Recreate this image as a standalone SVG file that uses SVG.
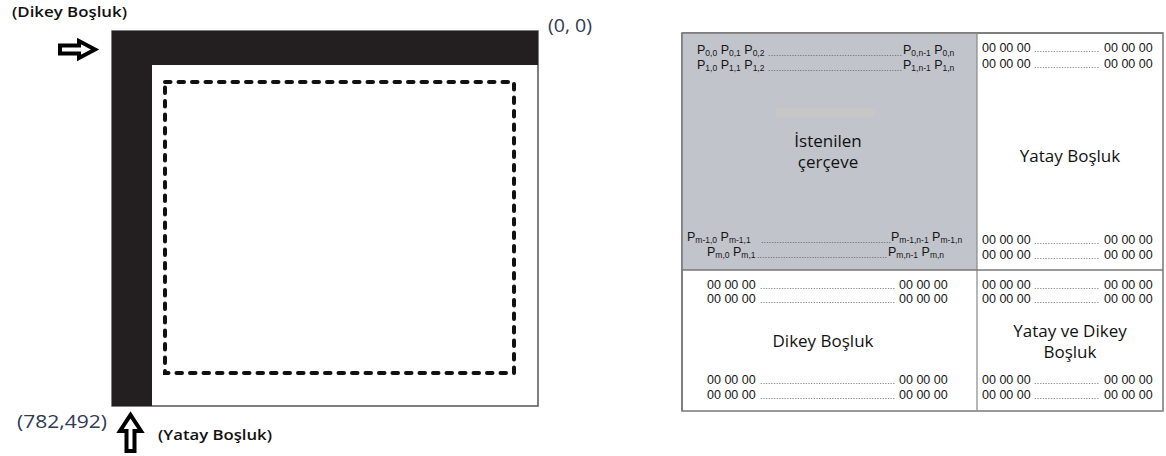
<svg xmlns="http://www.w3.org/2000/svg" width="1166" height="456" viewBox="0 0 1166 456">
<style>
.lbl{font-family:"Open Sans","DejaVu Sans",sans-serif;fill:#111;font-weight:600}
.coord{font-family:"Open Sans","DejaVu Sans",sans-serif;fill:#2f3a55}
.p{font-family:"Liberation Sans",Arial,sans-serif;font-size:12.5px;fill:#151515}
.s{font-size:8.5px}
.dots{font-family:"Liberation Sans",Arial,sans-serif;font-size:9px;fill:#555b66}
.z{font-family:"Liberation Sans",Arial,sans-serif;font-size:12.5px;fill:#151515}
.big{font-family:"Open Sans","DejaVu Sans",sans-serif;font-size:17px;fill:#111;text-anchor:middle}
.arrow{fill:#fff;stroke:#000;stroke-width:4;stroke-linejoin:miter}
</style>
<rect width="1166" height="456" fill="#fff"/>

<g id="frame">
  <rect x="112" y="31" width="426" height="375" fill="#fff" stroke="#555" stroke-width="1.5"/>
  <rect x="112" y="31" width="426" height="34" fill="#231f20"/>
  <rect x="112" y="31" width="40" height="375" fill="#231f20"/>
  <rect x="165" y="82" width="349" height="291" fill="none" stroke="#111" stroke-width="4" stroke-dasharray="5.5 8" stroke-linecap="round"/>
</g>

<g id="connectors">
  <path class="arrow" d="M60,45.5 H79 V41 L95,49.5 L79,58 V53.5 H60 Z"/>
  <path class="arrow" d="M126.5,451 V431 H120 L130.5,415 L141,431 H134.5 V451 Z"/>
</g>

<g id="labels">
  <text class="lbl" x="12" y="17" font-size="14.5" textLength="115" lengthAdjust="spacingAndGlyphs">(Dikey Boşluk)</text>
  <text class="coord" x="548" y="32" font-size="18" textLength="44" lengthAdjust="spacingAndGlyphs">(0, 0)</text>
  <text class="coord" x="17" y="428" font-size="19" textLength="90" lengthAdjust="spacingAndGlyphs">(782,492)</text>
  <text class="lbl" x="158" y="440" font-size="14" textLength="114" lengthAdjust="spacingAndGlyphs">(Yatay Boşluk)</text>
</g>

<g id="table">
  <rect x="682" y="33" width="481" height="378" fill="#fff" stroke="#777" stroke-width="1.5"/>
  <rect x="682" y="33" width="295" height="237" fill="#c1c4cb"/>
  <line x1="682" y1="33" x2="1163" y2="33" stroke="#777" stroke-width="1.5"/>
  <line x1="682" y1="33" x2="682" y2="411" stroke="#777" stroke-width="1.5"/>
  <line x1="977" y1="33" x2="977" y2="411" stroke="#888" stroke-width="1.2"/>
  <line x1="682" y1="270" x2="1163" y2="270" stroke="#777" stroke-width="1.5"/>
</g>

<g id="cell-istenilen">
  <rect x="776" y="108" width="99" height="9" fill="#c6c6c6"/>
  <text class="p" x="697" y="54">P<tspan class="s" dy="2">0,0</tspan><tspan dy="-2"> P</tspan><tspan class="s" dy="2">0,1</tspan><tspan dy="-2"> P</tspan><tspan class="s" dy="2">0,2</tspan></text>
  <text class="dots" x="768" y="56" textLength="134" lengthAdjust="spacing">...................................................</text>
  <text class="p" x="903" y="54">P<tspan class="s" dy="2">0,n-1</tspan><tspan dy="-2"> P</tspan><tspan class="s" dy="2">0,n</tspan></text>
  <text class="p" x="697" y="69">P<tspan class="s" dy="2">1,0</tspan><tspan dy="-2"> P</tspan><tspan class="s" dy="2">1,1</tspan><tspan dy="-2"> P</tspan><tspan class="s" dy="2">1,2</tspan></text>
  <text class="dots" x="768" y="71" textLength="134" lengthAdjust="spacing">...................................................</text>
  <text class="p" x="903" y="69">P<tspan class="s" dy="2">1,n-1</tspan><tspan dy="-2"> P</tspan><tspan class="s" dy="2">1,n</tspan></text>
  <text class="big" font-size="15.5"><tspan x="828" y="147">İstenilen</tspan><tspan x="828" y="168">çerçeve</tspan></text>
  <text class="p" x="687" y="241">P<tspan class="s" dy="2">m-1,0</tspan><tspan dy="-2"> P</tspan><tspan class="s" dy="2">m-1,1</tspan></text>
  <text class="dots" x="761" y="243" textLength="130" lengthAdjust="spacing">..................................................</text>
  <text class="p" x="891" y="241">P<tspan class="s" dy="2">m-1,n-1</tspan><tspan dy="-2"> P</tspan><tspan class="s" dy="2">m-1,n</tspan></text>
  <text class="p" x="707" y="256">P<tspan class="s" dy="2">m,0</tspan><tspan dy="-2"> P</tspan><tspan class="s" dy="2">m,1</tspan></text>
  <text class="dots" x="757" y="258" textLength="130" lengthAdjust="spacing">..................................................</text>
  <text class="p" x="888" y="256">P<tspan class="s" dy="2">m,n-1</tspan><tspan dy="-2"> P</tspan><tspan class="s" dy="2">m,n</tspan></text>
</g>

<g id="cell-yatay">
  <text class="z" x="982" y="52">00 00 00</text><text class="dots" x="1034" y="52" textLength="65" lengthAdjust="spacing">........................</text><text class="z" x="1104" y="52">00 00 00</text>
  <text class="z" x="982" y="68">00 00 00</text><text class="dots" x="1034" y="68" textLength="65" lengthAdjust="spacing">........................</text><text class="z" x="1104" y="68">00 00 00</text>
  <text class="big" x="1070" y="162">Yatay Boşluk</text>
  <text class="z" x="982" y="244">00 00 00</text><text class="dots" x="1034" y="244" textLength="65" lengthAdjust="spacing">........................</text><text class="z" x="1104" y="244">00 00 00</text>
  <text class="z" x="982" y="259">00 00 00</text><text class="dots" x="1034" y="259" textLength="65" lengthAdjust="spacing">........................</text><text class="z" x="1104" y="259">00 00 00</text>
</g>

<g id="cell-dikey">
  <text class="z" x="707" y="289">00 00 00</text><text class="dots" x="760" y="289" textLength="135" lengthAdjust="spacing">...................................................</text><text class="z" x="899" y="289">00 00 00</text>
  <text class="z" x="707" y="303">00 00 00</text><text class="dots" x="760" y="303" textLength="135" lengthAdjust="spacing">...................................................</text><text class="z" x="899" y="303">00 00 00</text>
  <text class="big" x="823" y="347">Dikey Boşluk</text>
  <text class="z" x="707" y="384">00 00 00</text><text class="dots" x="760" y="384" textLength="135" lengthAdjust="spacing">...................................................</text><text class="z" x="899" y="384">00 00 00</text>
  <text class="z" x="707" y="399">00 00 00</text><text class="dots" x="760" y="399" textLength="135" lengthAdjust="spacing">...................................................</text><text class="z" x="899" y="399">00 00 00</text>
</g>

<g id="cell-yatay-dikey">
  <text class="z" x="982" y="289">00 00 00</text><text class="dots" x="1034" y="289" textLength="65" lengthAdjust="spacing">........................</text><text class="z" x="1104" y="289">00 00 00</text>
  <text class="z" x="982" y="303">00 00 00</text><text class="dots" x="1034" y="303" textLength="65" lengthAdjust="spacing">........................</text><text class="z" x="1104" y="303">00 00 00</text>
  <text class="big"><tspan x="1070" y="337">Yatay ve Dikey</tspan><tspan x="1070" y="358">Boşluk</tspan></text>
  <text class="z" x="982" y="384">00 00 00</text><text class="dots" x="1034" y="384" textLength="65" lengthAdjust="spacing">........................</text><text class="z" x="1104" y="384">00 00 00</text>
  <text class="z" x="982" y="399">00 00 00</text><text class="dots" x="1034" y="399" textLength="65" lengthAdjust="spacing">........................</text><text class="z" x="1104" y="399">00 00 00</text>
</g>
</svg>
